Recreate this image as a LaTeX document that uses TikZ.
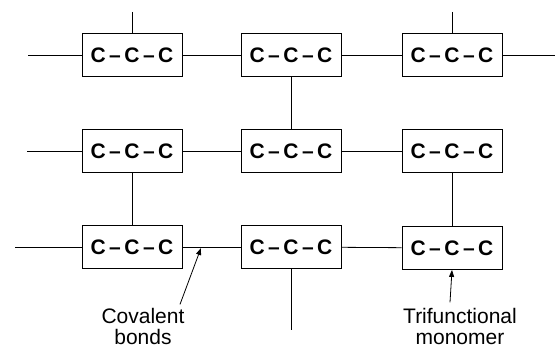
\documentclass[tikz,border=0pt]{standalone}
\usepackage{fontspec}
\setmainfont{Liberation Sans}
\usetikzlibrary{arrows.meta}

\begin{document}
\begin{tikzpicture}[
  x=1pt, y=1pt, thick,
  unit/.style={draw,minimum width=100pt,minimum height=43pt,inner sep=0pt,font=\bfseries\fontsize{21}{21}\selectfont},
  lbl/.style={align=center,inner sep=0pt,font=\fontsize{21}{21}\selectfont},
  pointer/.style={-{Triangle[length=7pt,width=5pt]}}
]
  \useasboundingbox (0,0) rectangle (555,-347);
  \node[unit] (u11) at (132,-55) {C\,--\,C\,--\,C};
  \node[unit] (u12) at (291,-55) {C\,--\,C\,--\,C};
  \node[unit] (u13) at (452,-55) {C\,--\,C\,--\,C};
  \node[unit] (u21) at (132,-151) {C\,--\,C\,--\,C};
  \node[unit] (u22) at (291,-151) {C\,--\,C\,--\,C};
  \node[unit] (u23) at (452,-151) {C\,--\,C\,--\,C};
  \node[unit] (u31) at (132,-247) {C\,--\,C\,--\,C};
  \node[unit] (u32) at (291,-247) {C\,--\,C\,--\,C};
  \node[unit] (u33) at (452,-248) {C\,--\,C\,--\,C};
  \coordinate (e11) at (28,-55);
  \coordinate (e21) at (27,-151);
  \coordinate (e31) at (15,-247);
  \coordinate (e13) at (555,-55);
  \coordinate (t11) at (132,-12);
  \coordinate (t13) at (452,-12);
  \coordinate (b32) at (291,-330);
  \coordinate (bond) at (201,-248);
  \node[lbl] (cov) at (143,-326) {Covalent\\bonds};
  \node[lbl] (tri) at (460,-326) {Trifunctional\\monomer};
  \draw (e11) -- (u11);
  \draw (u11) -- (u12);
  \draw (u12) -- (u13);
  \draw (u13) -- (e13);
  \draw (e21) -- (u21);
  \draw (u21) -- (u22);
  \draw (u22) -- (u23);
  \draw (e31) -- (u31);
  \draw (u31) -- (u32);
  \draw (u32) -- (u33);
  \draw (t11) -- (u11);
  \draw (t13) -- (u13);
  \draw (u12) -- (u22);
  \draw (u21) -- (u31);
  \draw (u23) -- (u33);
  \draw (u32) -- (b32);
  \draw[pointer] (cov.north) ++(37,3) -- (bond);
  \draw[pointer] (tri.north) ++(-10,5) -- (u33.south);
\end{tikzpicture}
\end{document}
